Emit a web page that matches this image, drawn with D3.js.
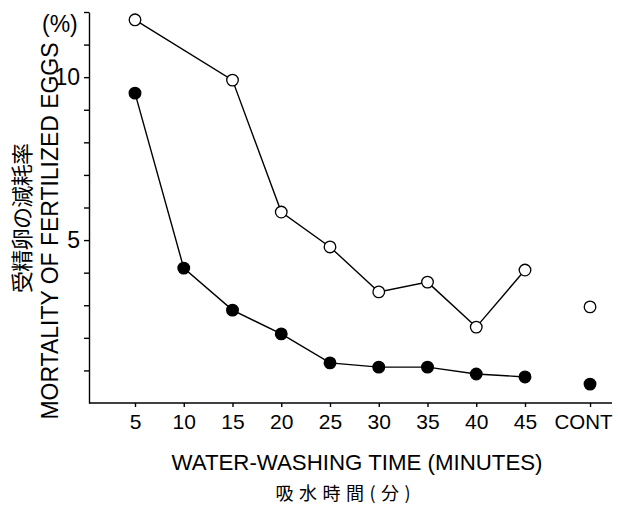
<!DOCTYPE html>
<html>
<head>
<meta charset="utf-8">
<script src="https://cdn.jsdelivr.net/npm/d3@7"></script>
<style>
  body { margin: 0; background: #fff; }
  svg { display: block; }
  text { font-family: "Liberation Sans", Arial, sans-serif; fill: #000; }
  .jp { font-family: "Noto Sans CJK JP", sans-serif; }
  .axis path, .axis line { stroke: #000; stroke-width: 1.4; }
</style>
</head>
<body>
<svg width="618" height="506"></svg>
<script>
// data
const minutes = ['5', '10', '15', '20', '25', '30', '35', '40', '45', 'CONT'];
const openValues = [11.76, null, 9.91, 5.86, 4.79, 3.41, 3.71, 2.33, 4.08, 2.95];
const filledValues = [9.51, 4.14, 2.85, 2.12, 1.23, 1.10, 1.10, 0.89, 0.80, 0.58];
const yTicks = [1, 2, 3, 4, 5, 6, 7, 8, 9, 10, 11, 12];
const yLabelled = [5, 10];

const svg = d3.select('svg');

// CONT sits a bit past 45 on the washing-time axis
const contAt = 51.67;
const pos = m => (m === 'CONT' ? contAt : +m);

const x = d3.scaleLinear().domain([5, 45]).range([135, 525]);
const y = d3.scaleLinear().domain([0, 12]).range([403, 12]);
const axisLeftX = 89;
const axisRightX = 612;

const series = [
  {values: openValues, fill: '#fff'},
  {values: filledValues, fill: '#000'}
];

// x axis
const xAxis = svg.append('g')
  .attr('class', 'axis')
  .attr('transform', `translate(0, ${y(0)})`)
  .call(d3.axisBottom(x)
    .tickValues(minutes.map(pos))
    .tickSize(4)
    .tickPadding(7)
    .tickFormat((v, i) => minutes[i]));
xAxis.select('.domain').remove();
xAxis.selectAll('text').style('font-size', '21px');
// CONT label is pulled in from the right edge, as in the original
xAxis.selectAll('text')
  .filter(function() { return this.textContent === 'CONT'; })
  .attr('dx', -7)
  .attr('textLength', 58)
  .attr('lengthAdjust', 'spacingAndGlyphs');
xAxis.append('line')
  .attr('x1', axisLeftX).attr('x2', axisRightX)
  .attr('y1', 0).attr('y2', 0);

// y axis
const yAxis = svg.append('g')
  .attr('class', 'axis')
  .attr('transform', `translate(${axisLeftX}, 0)`)
  .call(d3.axisLeft(y)
    .tickValues(yTicks)
    .tickSize(5)
    .tickSizeOuter(0)
    .tickPadding(4)
    .tickFormat(d => (yLabelled.includes(d) ? d : '')));
yAxis.selectAll('text').style('font-size', '23px');

// lines + markers
const line = d3.line()
  .x(d => x(pos(d.m)))
  .y(d => y(d.v));

series.forEach(s => {
  const pts = minutes.map((m, i) => ({m, v: s.values[i]}))
    .filter(d => d.v !== null);

  svg.append('path')
    .datum(pts.filter(d => d.m !== 'CONT'))
    .attr('fill', 'none')
    .attr('stroke', '#000')
    .attr('stroke-width', 1.4)
    .attr('d', line);

  svg.append('g')
    .selectAll('circle')
    .data(pts)
    .enter()
    .append('circle')
    .attr('cx', d => x(pos(d.m)))
    .attr('cy', d => y(d.v))
    .attr('r', 5.8)
    .attr('fill', s.fill)
    .attr('stroke', '#000')
    .attr('stroke-width', 1.3);
});

// axis titles
svg.append('text')
  .attr('x', 42)
  .attr('y', 32)
  .style('font-size', '23px')
  .text('(%)');

svg.append('text')
  .attr('transform', 'translate(58, 231) rotate(-90)')
  .attr('text-anchor', 'middle')
  .attr('textLength', 377)
  .attr('lengthAdjust', 'spacingAndGlyphs')
  .style('font-size', '23px')
  .text('MORTALITY OF FERTILIZED EGGS');

svg.append('text')
  .attr('class', 'jp')
  .attr('transform', 'translate(30, 218) rotate(-90)')
  .attr('text-anchor', 'middle')
  .attr('textLength', 150)
  .style('font-size', '22px')
  .text('受精卵の減耗率');

svg.append('text')
  .attr('x', 357)
  .attr('y', 470)
  .attr('text-anchor', 'middle')
  .attr('textLength', 371)
  .attr('lengthAdjust', 'spacingAndGlyphs')
  .style('font-size', '22px')
  .text('WATER-WASHING TIME (MINUTES)');

svg.append('text')
  .attr('class', 'jp')
  .attr('x', 343)
  .attr('y', 500)
  .attr('text-anchor', 'middle')
  .attr('textLength', 135)
  .style('font-size', '18px')
  .text('吸水時間(分)');
</script>
</body>
</html>
